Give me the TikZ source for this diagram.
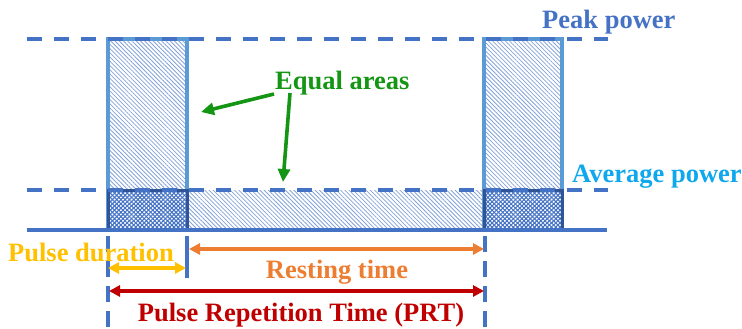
\documentclass[tikz,border=0pt]{standalone}
\usepackage{fontspec}
\setmainfont{Liberation Serif}
\usetikzlibrary{patterns.meta,arrows.meta}
\definecolor{levelblue}{HTML}{4472C4}
\definecolor{edgeblue}{HTML}{5B9BD5}
\definecolor{deepblue}{HTML}{2F5597}
\definecolor{avgcyan}{HTML}{10A8EC}
\definecolor{pulseyellow}{HTML}{FFC000}
\definecolor{restorange}{HTML}{ED7D31}
\definecolor{prtred}{HTML}{C00000}
\definecolor{areagreen}{RGB}{20,150,20}
\tikzset{
  lbl/.style={font=\fontsize{26.5}{30}\selectfont\bfseries, inner sep=0pt},
  lighthatch/.style={pattern={Lines[angle=-45,distance=3pt,line width=0.8pt]}, pattern color=levelblue!65},
  densehatch/.style={pattern={Lines[angle=45,distance=3pt,line width=1.1pt]}, pattern color=levelblue},
  densehatchb/.style={pattern={Lines[angle=-45,distance=3pt,line width=1.1pt]}, pattern color=levelblue},
  pulseedge/.style={draw=edgeblue, line width=3.2pt},
  lowedge/.style={draw=deepblue, line width=3pt},
  levelline/.style={levelblue, line width=3.5pt, dash pattern=on 15pt off 12pt},
  baseaxis/.style={levelblue, line width=3.8pt},
  marker/.style={levelblue, line width=3.2pt, dash pattern=on 16pt off 9pt},
  span/.style={line width=3.2pt, {Triangle[length=11pt,width=11pt]}-{Triangle[length=11pt,width=11pt]}},
  pointer/.style={areagreen, line width=3.6pt, -{Triangle[length=13pt,width=12pt]}}
}
\begin{document}
\begin{tikzpicture}[x=1pt,y=-1pt]
\useasboundingbox (0,0) rectangle (742,329);

% hatched areas: two pulses above the average level and the resting strip
\fill[lighthatch] (108,39) rectangle (187,190);
\fill[lighthatch] (484,39) rectangle (562,190);
\fill[lighthatch] (187,190) rectangle (484,230);
% cross-hatched areas below the average level inside each pulse
\fill[densehatch] (108,190) rectangle (187,230);
\fill[densehatchb] (108,190) rectangle (187,230);
\fill[densehatch] (484,190) rectangle (562,230);
\fill[densehatchb] (484,190) rectangle (562,230);

% pulse outlines
\draw[pulseedge] (108,230) -- (108,39) -- (187,39) -- (187,190);
\draw[pulseedge] (484,230) -- (484,39) -- (562,39) -- (562,190);
\draw[lowedge] (108,190) rectangle (187,230);
\draw[lowedge] (484,190) rectangle (562,230);

% power levels and time axis
\draw[levelline] (27,39) -- (608,39);
\draw[levelline] (27,190) -- (608,190);
\draw[baseaxis] (27,230) -- (607,230);

% time markers
\coordinate (mA1) at (108,236); \coordinate (mA2) at (108,329);
\coordinate (mB1) at (187,236); \coordinate (mB2) at (187,278);
\coordinate (mC1) at (485,236); \coordinate (mC2) at (485,329);
\draw[marker] (mA1) -- (mA2);
\draw[levelblue, line width=3.2pt] (mB1) -- (mB2);
\draw[marker] (mC1) -- (mC2);

% labels
\node[lbl, text=levelblue, anchor=base west] (peak) at (542,29) {Peak power};
\node[lbl, text=avgcyan, anchor=base west] (avg) at (572,182) {Average power};
\node[lbl, text=areagreen, anchor=base west] (equal) at (275,89) {Equal areas};
\node[lbl, text=pulseyellow, anchor=base west] (dur) at (8,261) {Pulse duration};
\node[lbl, text=restorange, anchor=base] (rest) at (337,278) {Resting time};
\node[lbl, text=prtred, anchor=base] (prt) at (301,321) {Pulse Repetition Time (PRT)};

% interval arrows
\coordinate (durL) at (108,268); \coordinate (durR) at (186,268);
\coordinate (restL) at (189,249); \coordinate (restR) at (484,249);
\coordinate (prtL) at (109,291); \coordinate (prtR) at (484,291);
\draw[span, pulseyellow] (durL) -- (durR);
\draw[span, restorange] (restL) -- (restR);
\draw[span, prtred] (prtL) -- (prtR);

% pointers from the area label
\coordinate (eqS1) at (274,94); \coordinate (eqT1) at (201,112);
\coordinate (eqS2) at (290,93); \coordinate (eqT2) at (283,182);
\draw[pointer] (eqS1) -- (eqT1);
\draw[pointer] (eqS2) -- (eqT2);
\end{tikzpicture}
\end{document}
